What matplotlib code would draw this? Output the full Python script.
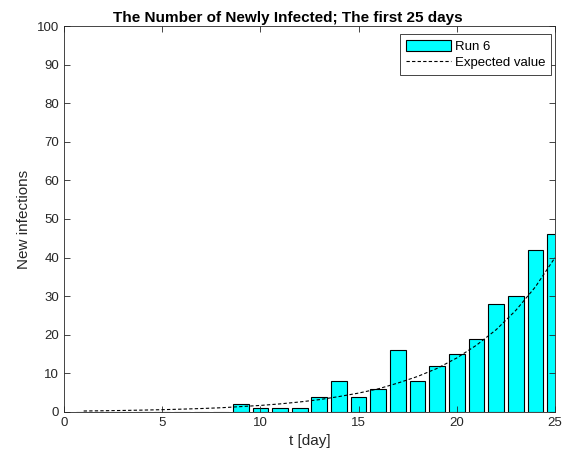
import matplotlib.pyplot as plt

plt.rcParams["font.family"] = ["Liberation Sans", "DejaVu Sans"]

days = list(range(1, 26))
run6 = [0, 0, 0, 0, 0, 0, 0, 0, 2, 1, 1, 1, 4, 8, 4, 6, 16, 8, 12, 15, 19, 28, 30, 42, 46]
expected = [0.26, 0.32, 0.4, 0.49, 0.6, 0.74, 0.9, 1.1, 1.4, 1.7, 2.1, 2.6, 3.2,
            4.0, 4.9, 6.0, 7.5, 9.2, 11.3, 14.0, 17.3, 21.3, 26.3, 32.4, 40.0]

axis_color = (0.15, 0.15, 0.15)

fig = plt.figure(figsize=(5.65, 4.61), dpi=100)
ax = fig.add_axes([0.1133, 0.1063, 0.8690, 0.8373])

bars = ax.bar(days, run6, width=0.8, color="cyan", edgecolor="black", linewidth=0.8, label="Run 6")
line, = ax.plot(days, expected, color="black", linestyle="--", linewidth=0.8, dashes=(3, 2), label="Expected value")

ax.set_xlim(0, 25)
ax.set_ylim(0, 100)
ax.set_xticks(range(0, 26, 5))
ax.set_yticks(range(0, 101, 10))
ax.tick_params(direction="in", top=True, right=True, length=4, width=0.6,
               labelsize=9.5, colors=axis_color, labelcolor=axis_color)
for spine in ax.spines.values():
    spine.set_color(axis_color)
    spine.set_linewidth(0.6)

ax.set_xlabel("t [day]", fontsize=11, color=axis_color)
ax.set_ylabel("New infections", fontsize=11, color=axis_color)
ax.set_title("The Number of Newly Infected; The first 25 days", fontsize=11,
             fontweight="bold", pad=3, x=0.456)

leg = ax.legend(handles=[bars, line], loc="upper right", bbox_to_anchor=(0.9919, 0.9793),
                fontsize=9.5, fancybox=False, framealpha=1, edgecolor=axis_color,
                borderaxespad=0, handlelength=3.4, handleheight=0.9,
                handletextpad=0.3, borderpad=0.45, labelspacing=0.25)
leg.get_frame().set_linewidth(0.6)

fig.savefig("out.png", dpi=100)
